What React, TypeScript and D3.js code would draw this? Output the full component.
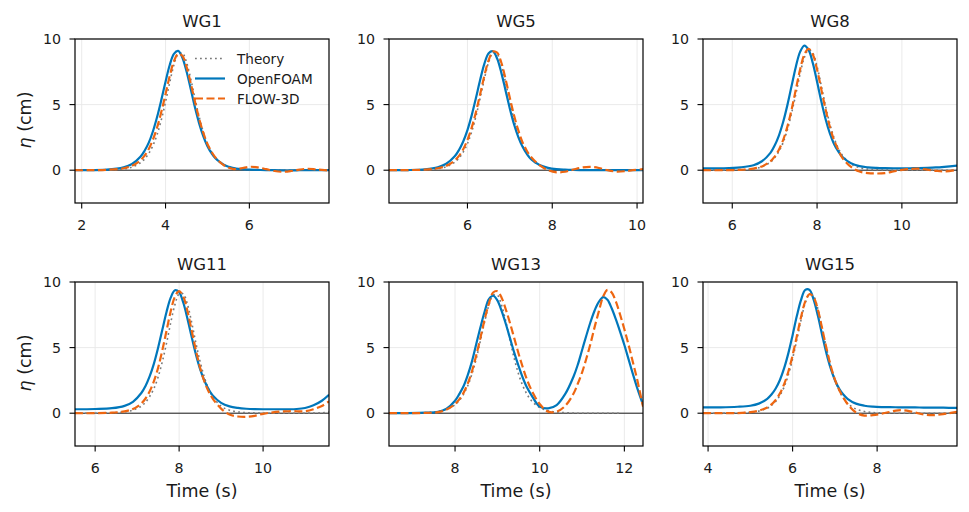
import React from 'react';
import * as d3 from 'd3';

// ---- data (time in s, eta in cm) ----
const wg1Time = [1.84, 2.2, 2.6, 3.0, 3.2, 3.4, 3.5, 3.6, 3.7, 3.8, 3.9, 4.0, 4.1, 4.2, 4.3, 4.4, 4.5, 4.6, 4.7, 4.8, 4.9, 5.0, 5.1, 5.2, 5.4, 5.6, 5.8, 6.0, 6.2, 6.4, 6.6, 6.8, 7.0, 7.2, 7.4, 7.6, 7.9];
const wg1Theory = [0, 0, 0.01, 0.1, 0.24, 0.57, 0.85, 1.28, 1.88, 2.73, 3.85, 5.2, 6.68, 8.01, 8.85, 8.93, 8.23, 6.97, 5.5, 4.1, 2.93, 2.02, 1.38, 0.92, 0.4, 0.17, 0.07, 0.03, 0.01, 0, 0, 0, 0, 0, 0, 0, 0];
const wg1OpenFoam = [0, 0.01, 0.04, 0.22, 0.47, 1.02, 1.48, 2.1, 2.97, 4.07, 5.36, 6.75, 8.02, 8.87, 9.09, 8.59, 7.54, 6.2, 4.81, 3.59, 2.6, 1.83, 1.28, 0.87, 0.4, 0.18, 0.08, 0.04, 0.02, 0.01, 0, -0.02, -0.02, 0, 0.01, 0.01, 0];
const wg1Flow3d = [0, 0, 0.03, 0.15, 0.34, 0.75, 1.11, 1.62, 2.34, 3.27, 4.45, 5.8, 7.18, 8.3, 8.87, 8.72, 7.9, 6.64, 5.25, 3.95, 2.86, 2.0, 1.39, 0.93, 0.36, 0.1, 0.14, 0.26, 0.22, 0.08, -0.06, -0.12, -0.06, 0.05, 0.11, 0.06, -0.02];

const wg5Time = [4.15, 4.6, 5.0, 5.3, 5.5, 5.7, 5.8, 5.9, 6.0, 6.1, 6.2, 6.3, 6.4, 6.5, 6.6, 6.7, 6.8, 6.9, 7.0, 7.1, 7.2, 7.3, 7.4, 7.5, 7.7, 7.9, 8.1, 8.3, 8.5, 8.7, 8.9, 9.1, 9.3, 9.5, 9.7, 9.9, 10.14];
const wg5Theory = [0, 0.01, 0.03, 0.11, 0.26, 0.61, 0.92, 1.38, 2.02, 2.93, 4.1, 5.5, 6.97, 8.23, 8.93, 8.85, 8.01, 6.68, 5.2, 3.85, 2.73, 1.88, 1.28, 0.85, 0.37, 0.16, 0.07, 0.03, 0.01, 0, 0, 0, 0, 0, 0, 0, 0];
const wg5OpenFoam = [0, 0.01, 0.07, 0.22, 0.49, 1.06, 1.54, 2.19, 3.06, 4.18, 5.5, 6.89, 8.12, 8.92, 9.07, 8.51, 7.42, 6.06, 4.69, 3.48, 2.52, 1.78, 1.24, 0.84, 0.39, 0.18, 0.08, 0.04, 0.02, 0.01, 0, 0, 0, 0, 0, 0, 0];
const wg5Flow3d = [0, 0.01, 0.04, 0.15, 0.33, 0.74, 1.09, 1.6, 2.3, 3.24, 4.42, 5.8, 7.21, 8.39, 9.04, 8.96, 8.19, 6.93, 5.51, 4.16, 3.03, 2.12, 1.48, 1.01, 0.38, 0, -0.16, -0.12, 0.05, 0.2, 0.25, 0.17, 0, -0.1, -0.08, 0, 0.08];

const wg8Time = [5.31, 5.8, 6.2, 6.5, 6.7, 6.9, 7.0, 7.1, 7.2, 7.3, 7.4, 7.5, 7.6, 7.7, 7.8, 7.9, 8.0, 8.1, 8.2, 8.3, 8.4, 8.5, 8.6, 8.8, 9.0, 9.2, 9.4, 9.6, 9.8, 10.0, 10.2, 10.4, 10.6, 10.8, 11.0, 11.3];
const wg8Theory = [0, 0, 0.03, 0.11, 0.27, 0.62, 0.95, 1.43, 2.11, 3.08, 4.36, 5.81, 7.34, 8.59, 9.18, 8.92, 7.9, 6.43, 4.89, 3.55, 2.47, 1.68, 1.12, 0.48, 0.2, 0.08, 0.03, 0.01, 0, 0, 0, 0, 0, 0, 0, 0];
const wg8OpenFoam = [0.15, 0.15, 0.22, 0.38, 0.68, 1.32, 1.88, 2.64, 3.67, 4.96, 6.43, 7.89, 9.02, 9.5, 9.17, 8.16, 6.74, 5.25, 3.9, 2.82, 2.0, 1.43, 1.0, 0.53, 0.31, 0.22, 0.18, 0.16, 0.15, 0.15, 0.15, 0.16, 0.18, 0.21, 0.26, 0.35];
const wg8Flow3d = [0, 0, 0.03, 0.12, 0.29, 0.68, 1.03, 1.56, 2.3, 3.32, 4.64, 6.16, 7.67, 8.82, 9.25, 8.82, 7.67, 6.16, 4.64, 3.32, 2.3, 1.56, 0.92, 0.25, -0.1, -0.22, -0.25, -0.22, -0.1, 0.02, 0.1, 0.12, 0.05, -0.05, -0.1, 0.02];

const wg11Time = [5.52, 6.0, 6.4, 6.7, 6.9, 7.1, 7.2, 7.3, 7.4, 7.5, 7.6, 7.7, 7.8, 7.9, 8.0, 8.1, 8.2, 8.3, 8.4, 8.5, 8.6, 8.7, 8.8, 9.0, 9.2, 9.4, 9.6, 9.8, 10.0, 10.2, 10.4, 10.6, 10.8, 11.0, 11.2, 11.4, 11.57];
const wg11Theory = [0, 0, 0.03, 0.1, 0.23, 0.54, 0.84, 1.28, 1.88, 2.76, 3.93, 5.34, 6.9, 8.27, 9.09, 9.09, 8.27, 6.9, 5.34, 3.93, 2.76, 1.88, 1.28, 0.54, 0.23, 0.1, 0.04, 0.02, 0, 0, 0, 0, 0, 0, 0.01, 0.03, 0.08];
const wg11OpenFoam = [0.3, 0.32, 0.38, 0.56, 0.87, 1.54, 2.08, 2.82, 3.78, 4.99, 6.36, 7.72, 8.81, 9.37, 9.22, 8.42, 7.19, 5.8, 4.48, 3.36, 2.49, 1.84, 1.36, 0.79, 0.52, 0.4, 0.34, 0.31, 0.3, 0.3, 0.3, 0.3, 0.32, 0.4, 0.6, 0.95, 1.4];
const wg11Flow3d = [0, 0, 0.04, 0.14, 0.32, 0.74, 1.12, 1.67, 2.44, 3.47, 4.79, 6.29, 7.77, 8.88, 9.3, 8.88, 7.77, 6.29, 4.79, 3.47, 2.44, 1.67, 1.12, 0.35, -0.1, -0.25, -0.28, -0.2, -0.05, 0.05, 0.12, 0.15, 0.15, 0.15, 0.3, 0.55, 0.9];

const wg13Time = [6.44, 6.9, 7.3, 7.6, 7.8, 8.0, 8.1, 8.2, 8.3, 8.4, 8.5, 8.6, 8.7, 8.8, 8.9, 9.0, 9.1, 9.2, 9.3, 9.4, 9.5, 9.6, 9.7, 9.8, 10.0, 10.2, 10.4, 10.6, 10.8, 10.9, 11.0, 11.1, 11.2, 11.3, 11.4, 11.5, 11.6, 11.7, 11.8, 11.9, 12.0, 12.1, 12.2, 12.3, 12.44];
const wg13Theory = [0, 0, 0.04, 0.12, 0.29, 0.65, 0.97, 1.44, 2.09, 2.99, 4.15, 5.53, 6.99, 8.23, 9.0, 9.0, 8.23, 6.99, 5.53, 4.15, 2.99, 2.09, 1.44, 0.97, 0.43, 0.19, 0.08, 0.04, 0.01, 0, 0, 0, 0, 0, 0, 0, 0, 0, 0, 0, null, null, null, null, null];
const wg13OpenFoam = [0, 0.01, 0.04, 0.1, 0.35, 0.95, 1.45, 2.05, 2.9, 3.95, 5.25, 6.55, 7.75, 8.7, 8.95, 8.6, 7.8, 6.8, 5.7, 4.6, 3.6, 2.7, 1.95, 1.4, 0.5, 0.37, 0.62, 1.45, 2.8, 3.7, 4.8, 5.9, 6.95, 7.85, 8.5, 8.85, 8.65, 8.0, 7.15, 6.2, 5.2, 4.1, 3.0, 1.95, 0.65];
const wg13Flow3d = [0, 0, 0.02, 0.08, 0.28, 0.7, 1.05, 1.55, 2.25, 3.2, 4.4, 5.75, 7.15, 8.35, 9.2, 9.3, 8.8, 7.9, 6.85, 5.7, 4.55, 3.5, 2.55, 1.8, 0.7, 0.12, 0.12, 0.55, 1.5, 2.25, 3.1, 4.15, 5.3, 6.6, 7.8, 8.9, 9.4, 9.2, 8.5, 7.5, 6.4, 5.2, 3.9, 2.6, 0.5];

const wg15Time = [3.88, 4.3, 4.7, 5.0, 5.2, 5.4, 5.5, 5.6, 5.7, 5.8, 5.9, 6.0, 6.1, 6.2, 6.3, 6.4, 6.5, 6.6, 6.7, 6.8, 6.9, 7.0, 7.1, 7.2, 7.3, 7.5, 7.7, 7.9, 8.1, 8.3, 8.5, 8.7, 8.9, 9.1, 9.3, 9.5, 9.7, 9.89];
const wg15Theory = [0, 0, 0.02, 0.07, 0.16, 0.38, 0.59, 0.9, 1.35, 2.0, 2.94, 4.15, 5.59, 7.11, 8.39, 9.06, 8.89, 7.94, 6.52, 4.99, 3.62, 2.55, 1.73, 1.15, 0.75, 0.32, 0.13, 0.05, 0.02, 0, 0, 0, 0, 0, 0, 0, 0, 0];
const wg15OpenFoam = [0.45, 0.45, 0.49, 0.57, 0.73, 1.1, 1.42, 1.88, 2.53, 3.43, 4.58, 5.95, 7.4, 8.64, 9.4, 9.4, 8.64, 7.4, 5.95, 4.58, 3.43, 2.53, 1.88, 1.42, 1.1, 0.73, 0.57, 0.5, 0.47, 0.46, 0.45, 0.45, 0.44, 0.43, 0.42, 0.42, 0.41, 0.4];
const wg15Flow3d = [0, 0, 0.01, 0.08, 0.19, 0.44, 0.67, 1.01, 1.51, 2.21, 3.18, 4.41, 5.86, 7.33, 8.52, 9.08, 8.83, 7.86, 6.45, 4.97, 3.63, 2.57, 1.78, 1.2, 0.7, 0.05, -0.18, -0.15, -0.05, 0.1, 0.22, 0.2, 0.05, -0.1, -0.15, -0.1, 0, 0.1];

const gaugeNames = ['WG1', 'WG5', 'WG8', 'WG11', 'WG13', 'WG15'];
const timeRanges: [number, number][] = [[1.84, 7.9], [4.15, 10.14], [5.31, 11.3], [5.52, 11.57], [6.44, 12.44], [3.88, 9.89]];
const timeTicks = [[2, 4, 6], [6, 8, 10], [6, 8, 10], [6, 8, 10], [8, 10, 12], [4, 6, 8]];
const etaTicks = [0, 5, 10];
const legendLabels = ['Theory', 'OpenFOAM', 'FLOW-3D'];

const panels = [
  { time: wg1Time, series: [wg1Theory, wg1OpenFoam, wg1Flow3d] },
  { time: wg5Time, series: [wg5Theory, wg5OpenFoam, wg5Flow3d] },
  { time: wg8Time, series: [wg8Theory, wg8OpenFoam, wg8Flow3d] },
  { time: wg11Time, series: [wg11Theory, wg11OpenFoam, wg11Flow3d] },
  { time: wg13Time, series: [wg13Theory, wg13OpenFoam, wg13Flow3d] },
  { time: wg15Time, series: [wg15Theory, wg15OpenFoam, wg15Flow3d] },
];

// ---- layout / style ----
const WIDTH = 969;
const HEIGHT = 512;
const COL_X = [75, 389, 703];
const ROW_Y = [39, 282];
const PW = 254;
const PH = 164;
const FONT = "'DejaVu Sans', sans-serif";

const lineStyles = [
  { stroke: '#7a7a7a', width: 1.6, dash: '1.8,3.2' },
  { stroke: '#0077bb', width: 2.2, dash: undefined },
  { stroke: '#ee6611', width: 2.2, dash: '8,3.5' },
];

function Panel({ idx }: { idx: number }) {
  const col = idx % 3;
  const row = Math.floor(idx / 3);
  const left = COL_X[col];
  const top = ROW_Y[row];
  const { time, series } = panels[idx];

  const x = d3.scaleLinear().domain(timeRanges[idx]).range([left, left + PW]);
  const y = d3.scaleLinear().domain([-2.5, 10]).range([top + PH, top]);

  const line = d3
    .line<[number, number | null]>()
    .defined((d) => d[1] !== null)
    .x((d) => x(d[0]))
    .y((d) => y(d[1] as number))
    .curve(d3.curveCatmullRom.alpha(0.5));

  const clipId = `clip-${idx}`;

  return (
    <g>
      <defs>
        <clipPath id={clipId}>
          <rect x={left} y={top} width={PW} height={PH} />
        </clipPath>
      </defs>
      {/* grid */}
      {timeTicks[idx].map((t) => (
        <line key={`gx${t}`} x1={x(t)} x2={x(t)} y1={top} y2={top + PH} stroke="#e8e8e8" strokeWidth={0.9} />
      ))}
      {etaTicks.map((v) => (
        <line key={`gy${v}`} x1={left} x2={left + PW} y1={y(v)} y2={y(v)} stroke="#e8e8e8" strokeWidth={0.9} />
      ))}
      {/* zero line */}
      <line x1={left} x2={left + PW} y1={y(0)} y2={y(0)} stroke="#1a1a1a" strokeWidth={1} />
      <g clipPath={`url(#${clipId})`}>
        {series.map((vals, si) => (
          <path
            key={si}
            d={line(time.map((t, i) => [t, vals[i]] as [number, number | null])) || ''}
            fill="none"
            stroke={lineStyles[si].stroke}
            strokeWidth={lineStyles[si].width}
            strokeDasharray={lineStyles[si].dash}
            strokeLinejoin="round"
          />
        ))}
      </g>
      {/* frame */}
      <rect x={left} y={top} width={PW} height={PH} fill="none" stroke="#000" strokeWidth={1.2} />
      {/* x ticks */}
      {timeTicks[idx].map((t) => (
        <g key={`tx${t}`}>
          <line x1={x(t)} x2={x(t)} y1={top + PH} y2={top + PH + 5.5} stroke="#000" strokeWidth={1.1} />
          <text x={x(t)} y={top + PH + 27} textAnchor="middle" fontSize={14.2} fill="#1a1a1a">
            {t}
          </text>
        </g>
      ))}
      {/* y ticks */}
      {etaTicks.map((v) => (
        <g key={`ty${v}`}>
          <line x1={left - 5.5} x2={left} y1={y(v)} y2={y(v)} stroke="#000" strokeWidth={1.1} />
          <text x={left - 14} y={y(v) + 5} textAnchor="end" fontSize={14.2} fill="#1a1a1a">
            {v}
          </text>
        </g>
      ))}
      <text x={left + PW / 2} y={top - 12} textAnchor="middle" fontSize={16.5} fill="#1a1a1a">
        {gaugeNames[idx]}
      </text>
      {col === 0 && (
        <text
          transform={`translate(${left - 44},${top + PH / 2 - 1}) rotate(-90)`}
          textAnchor="middle"
          fontSize={17.5}
          fill="#1a1a1a"
        >
          <tspan fontStyle="italic">η</tspan> (cm)
        </text>
      )}
      {row === 1 && (
        <text x={left + PW / 2} y={top + PH + 51} textAnchor="middle" fontSize={17.5} fill="#1a1a1a">
          Time (s)
        </text>
      )}
      {idx === 0 &&
        legendLabels.map((label, li) => (
          <g key={label}>
            <line
              x1={195}
              x2={225}
              y1={58.5 + li * 20}
              y2={58.5 + li * 20}
              stroke={lineStyles[li].stroke}
              strokeWidth={lineStyles[li].width}
              strokeDasharray={lineStyles[li].dash}
            />
            <text x={237} y={58.5 + li * 20 + 5} fontSize={13.6} fill="#1a1a1a">
              {label}
            </text>
          </g>
        ))}
    </g>
  );
}

export default function App() {
  return (
    <svg
      width={WIDTH}
      height={HEIGHT}
      style={{ position: 'absolute', left: 0, top: 0, background: '#fff' }}
      fontFamily={FONT}
    >
      <rect width={WIDTH} height={HEIGHT} fill="#fff" />
      {panels.map((_, i) => (
        <Panel key={i} idx={i} />
      ))}
    </svg>
  );
}
